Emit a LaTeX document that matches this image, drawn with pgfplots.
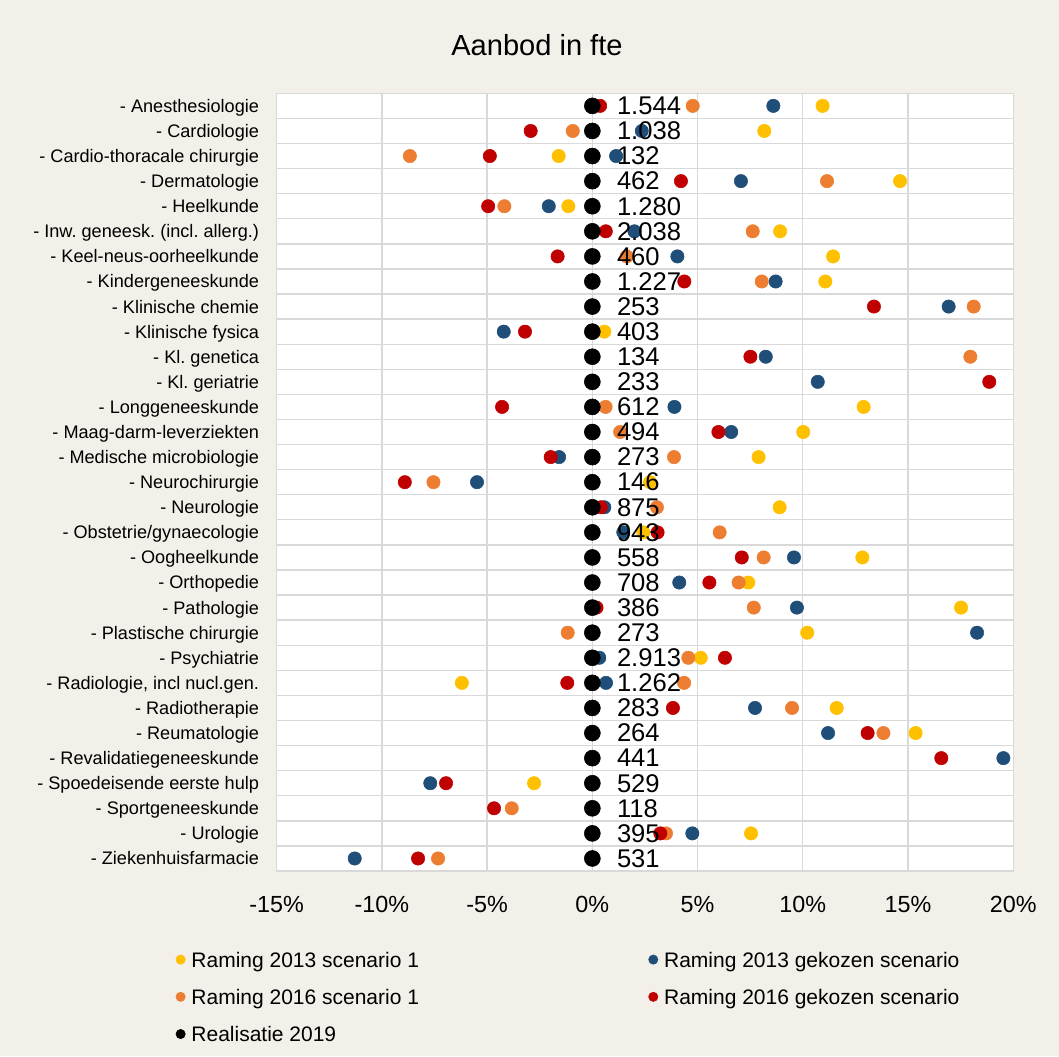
\documentclass[border=0pt]{standalone}
\usepackage{fontspec}
\setmainfont{Liberation Sans}
\usepackage{pgfplots}
\pgfplotsset{compat=1.18}
\usetikzlibrary{backgrounds}
\definecolor{bg}{RGB}{242,240,233}
\definecolor{gridc}{RGB}{217,217,217}
\definecolor{cY}{RGB}{255,192,0}
\definecolor{cB}{RGB}{31,78,121}
\definecolor{cO}{RGB}{237,125,49}
\definecolor{cR}{RGB}{192,0,0}
\frenchspacing
\begin{document}
\begin{tikzpicture}
\begin{axis}[name=ax, scale only axis, width=552.5pt, height=583.3pt,
  xmin=-15, xmax=20, ymin=0.5, ymax=31.5, y dir=reverse,
  axis background/.style={fill=white},
  axis line style={draw=gridc, line width=1pt},
  xtick={-15,-10,...,20},
  xticklabels={-15\%,-10\%,-5\%,0\%,5\%,10\%,15\%,20\%},
  xmajorgrids, major grid style={draw=gridc, line width=1pt},
  extra x ticks={0}, extra x tick labels={},
  extra x tick style={grid style={draw=black!25, line width=1pt}},
  ytick={1,...,31},
  yticklabels={- Anesthesiologie,- Cardiologie,- Cardio-thoracale chirurgie,- Dermatologie,- Heelkunde,- Inw. geneesk. (incl. allerg.),- Keel-neus-oorheelkunde,- Kindergeneeskunde,- Klinische chemie,- Klinische fysica,- Kl. genetica,- Kl. geriatrie,- Longgeneeskunde,- Maag-darm-leverziekten,- Medische microbiologie,- Neurochirurgie,- Neurologie,- Obstetrie/gynaecologie,- Oogheelkunde,- Orthopedie,- Pathologie,- Plastische chirurgie,- Psychiatrie,- Radiologie{,} incl nucl.gen.,- Radiotherapie,- Reumatologie,- Revalidatiegeneeskunde,- Spoedeisende eerste hulp,- Sportgeneeskunde,- Urologie,- Ziekenhuisfarmacie},
  minor ytick={0.5,1.5,...,31.5}, yminorgrids,
  minor grid style={draw=gridc, line width=1pt},
  major tick length=0pt, minor tick length=0pt, tick style={draw=none},
  xticklabel style={font=\fontsize{17.5}{20}\selectfont, inner sep=0pt, anchor=north, yshift=-19pt},
  yticklabel style={font=\fontsize{13.6}{16}\selectfont, inner sep=0pt, anchor=base east, xshift=-13pt, yshift=-4.85pt},
  title={Aanbod in fte},
  title style={at={(axis description cs:0.3534,1.0518)}, anchor=center, inner sep=0pt, font=\fontsize{21.8}{24}\selectfont},
  legend columns=2, legend cell align=left,
  legend style={at={(axis description cs:-0.1374,-0.1042)}, anchor=north west, draw=none, fill=none, inner sep=0pt,
    font=\fontsize{15.75}{18}\selectfont, nodes={inner sep=0pt}, row sep=15pt,
    /tikz/every odd column/.append style={column sep=4.4pt},
    /tikz/every even column/.append style={column sep=172pt}},
]
\addplot[only marks, mark=*, mark size=5pt, color=cY,
  legend image code/.code={\fill[cY] (0pt,1pt) circle (3.5pt);}] coordinates {
(10.94,1) (8.17,2) (-1.6,3) (14.62,4) (-1.14,5) (8.92,6) (11.44,7) (11.07,8)
(0.57,10) (12.89,13) (10.02,14) (7.9,15) (2.74,16) (8.9,17) (2.42,18) (12.83,19)
(7.41,20) (17.52,21) (10.21,22) (5.15,23) (-6.2,24) (11.61,25) (15.36,26) (-2.77,28) (7.54,30)};
\addlegendentry{Raming 2013 scenario 1}
\addplot[only marks, mark=*, mark size=5pt, color=cB,
  legend image code/.code={\fill[cB] (0pt,1pt) circle (3.5pt);}] coordinates {
(8.6,1) (2.35,2) (1.13,3) (7.06,4) (-2.07,5) (2.0,6) (4.04,7) (8.71,8) (16.93,9)
(-4.21,10) (8.24,11) (10.71,12) (3.9,13) (6.6,14) (-1.58,15) (-5.48,16) (0.57,17)
(1.47,18) (9.58,19) (4.13,20) (9.72,21) (18.28,22) (0.33,23) (0.65,24) (7.73,25)
(11.2,26) (19.53,27) (-7.7,28) (4.75,30) (-11.29,31)};
\addlegendentry{Raming 2013 gekozen scenario}
\addplot[only marks, mark=*, mark size=5pt, color=cO,
  legend image code/.code={\fill[cO] (0pt,1pt) circle (3.5pt);}] coordinates {
(4.77,1) (-0.93,2) (-8.67,3) (11.15,4) (-4.18,5) (7.62,6) (1.63,7) (8.05,8) (18.12,9)
(17.96,11) (0.63,13) (1.32,14) (3.88,15) (-7.55,16) (3.07,17) (6.05,18) (8.14,19)
(6.95,20) (7.67,21) (-1.17,22) (4.56,23) (4.36,24) (9.49,25) (13.83,26) (-3.83,29)
(3.5,30) (-7.33,31)};
\addlegendentry{Raming 2016 scenario 1}
\addplot[only marks, mark=*, mark size=5pt, color=cR,
  legend image code/.code={\fill[cR] (0pt,1pt) circle (3.5pt);}] coordinates {
(0.37,1) (-2.93,2) (-4.87,3) (4.21,4) (-4.95,5) (0.64,6) (-1.65,7) (4.37,8) (13.38,9)
(-3.2,10) (7.51,11) (18.86,12) (-4.29,13) (5.99,14) (-1.98,15) (-8.91,16) (0.4,17)
(3.1,18) (7.1,19) (5.56,20) (0.2,21) (6.3,23) (-1.19,24) (3.83,25) (13.08,26)
(16.58,27) (-6.95,28) (-4.67,29) (3.23,30) (-8.28,31)};
\addlegendentry{Raming 2016 gekozen scenario}
\addplot[only marks, mark=*, mark size=6pt, color=black,
  legend image code/.code={\fill[black] (0pt,1pt) circle (3.5pt);},
  point meta=explicit symbolic, nodes near coords,
  nodes near coords style={anchor=west, inner sep=0pt, xshift=18.3pt, yshift=0pt, font=\fontsize{19.2}{22}\selectfont, text=black}] coordinates {
(0,1) [1.544] (0,2) [1.038] (0,3) [132] (0,4) [462] (0,5) [1.280] (0,6) [2.038]
(0,7) [460] (0,8) [1.227] (0,9) [253] (0,10) [403] (0,11) [134] (0,12) [233]
(0,13) [612] (0,14) [494] (0,15) [273] (0,16) [146] (0,17) [875] (0,18) [943]
(0,19) [558] (0,20) [708] (0,21) [386] (0,22) [273] (0,23) [2.913] (0,24) [1.262]
(0,25) [283] (0,26) [264] (0,27) [441] (0,28) [529] (0,29) [118] (0,30) [395] (0,31) [531]};
\addlegendentry{Realisatie 2019}
\end{axis}
\begin{scope}[on background layer]
\fill[bg] ([xshift=-207.5pt,yshift=70pt]ax.north west) rectangle ([xshift=34.3pt,yshift=-138.75pt]ax.south east);
\end{scope}
\pgfresetboundingbox
\path[use as bounding box] ([xshift=-207.5pt,yshift=70pt]ax.north west) rectangle ([xshift=34.3pt,yshift=-138.75pt]ax.south east);
\end{tikzpicture}
\end{document}
